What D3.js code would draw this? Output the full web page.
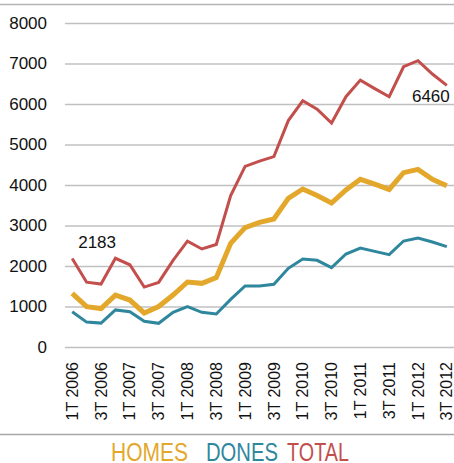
<!DOCTYPE html>
<html>
<head>
<meta charset="utf-8">
<script src="https://cdn.jsdelivr.net/npm/d3@7.9.0/dist/d3.min.js"></script>
<style>
  body { margin: 0; background: #fff; }
  svg { display: block; font-family: "Liberation Sans", Arial, sans-serif; }
</style>
</head>
<body>
<svg id="chart" width="454" height="463"></svg>
<script>
// quarters 1T 2006 .. 3T 2012
const quarters = [];
for (let y = 2006; y <= 2012; y++) {
  for (let q = 1; q <= 4; q++) {
    if (y === 2012 && q === 4) break;
    quarters.push(q + 'T ' + y);
  }
}

const homes = [1325, 995, 950, 1280, 1160, 840, 1000, 1284, 1605, 1572, 1712, 2560, 2947, 3078,
  3160, 3671, 3901, 3740, 3555, 3877, 4140, 4020, 3890, 4304, 4387, 4140, 3983];
const dones = [872, 615, 590, 915, 870, 635, 585, 856, 995, 856, 815, 1177, 1506, 1506,
  1547, 1942, 2173, 2140, 1959, 2296, 2444, 2362, 2280, 2617, 2691, 2593, 2477];
const total = [2183, 1600, 1555, 2190, 2030, 1480, 1595, 2140, 2615, 2420, 2530, 3740, 4460, 4590,
  4700, 5590, 6080, 5870, 5530, 6180, 6590, 6380, 6180, 6920, 7070, 6740, 6460];

const yTicks = [0, 1000, 2000, 3000, 4000, 5000, 6000, 7000, 8000];

const series = [
  { name: 'HOMES', values: homes, color: '#e3a82b', width: 5 },
  { name: 'DONES', values: dones, color: '#2f879e', width: 3 },
  { name: 'TOTAL', values: total, color: '#c34f4c', width: 3 }
];

const svg = d3.select('#chart');

const x = d3.scaleBand().domain(quarters).range([65, 454]);
const y = d3.scaleLinear().domain([0, 8000]).range([347, 23]);
const cx = (d) => x(d) + x.bandwidth() / 2;

// frame lines
svg.append('line').attr('x1', 0).attr('x2', 454).attr('y1', 4.5).attr('y2', 4.5)
  .attr('stroke', '#b4b4b4').attr('stroke-width', 1.5);
svg.append('line').attr('x1', 0).attr('x2', 454).attr('y1', 434.5).attr('y2', 434.5)
  .attr('stroke', '#a8a8a8').attr('stroke-width', 1.5);

// grid + y labels
const yAxis = d3.axisLeft(y).tickValues(yTicks).tickSize(-389).tickPadding(18).tickFormat(d3.format('d'));
const gy = svg.append('g').attr('transform', 'translate(65,0)').call(yAxis);
gy.select('.domain').remove();
gy.selectAll('.tick line').attr('stroke', '#c0c0c0').attr('stroke-width', 1.3);
gy.selectAll('.tick text').attr('font-size', 17).attr('fill', '#111')
  .attr('font-family', '"Liberation Sans", Arial, sans-serif');

// x labels every other quarter
const xLabels = quarters.filter((d, i) => i % 2 === 0);
svg.append('g').selectAll('text')
  .data(xLabels)
  .join('text')
  .attr('transform', (d) => `translate(${cx(d)},362) rotate(-90)`)
  .attr('text-anchor', 'end')
  .attr('dy', '0.35em')
  .attr('font-size', 16)
  .attr('fill', '#111')
  .text((d) => d);

// lines
const line = d3.line()
  .x((d, i) => cx(quarters[i]))
  .y((d) => y(d));

series.forEach((s) => {
  svg.append('path')
    .datum(s.values)
    .attr('d', line)
    .attr('fill', 'none')
    .attr('stroke', s.color)
    .attr('stroke-width', s.width)
    .attr('stroke-linejoin', 'miter');
});

// data labels
const last = quarters.length - 1;
svg.append('text')
  .attr('x', cx(quarters[0]) + 6)
  .attr('y', y(total[0]) - 11)
  .attr('font-size', 17).attr('fill', '#111')
  .text(total[0]);
svg.append('text')
  .attr('x', cx(quarters[last]) + 3)
  .attr('y', y(total[last]) + 17)
  .attr('text-anchor', 'end')
  .attr('font-size', 17).attr('fill', '#111')
  .text(total[last]);

// legend - narrow look, squeezed horizontally
const legendPos = [[111, 77], [206, 72], [287, 62]];
svg.append('g').selectAll('text')
  .data(series)
  .join('text')
  .attr('font-size', 25)
  .attr('fill', (d) => d.color)
  .text((d) => d.name)
  .attr('transform', function (d, i) {
    const w = this.getComputedTextLength();
    const k = legendPos[i][1] / w;
    return `translate(${legendPos[i][0]},461) scale(${k},1)`;
  });
</script>
</body>
</html>
